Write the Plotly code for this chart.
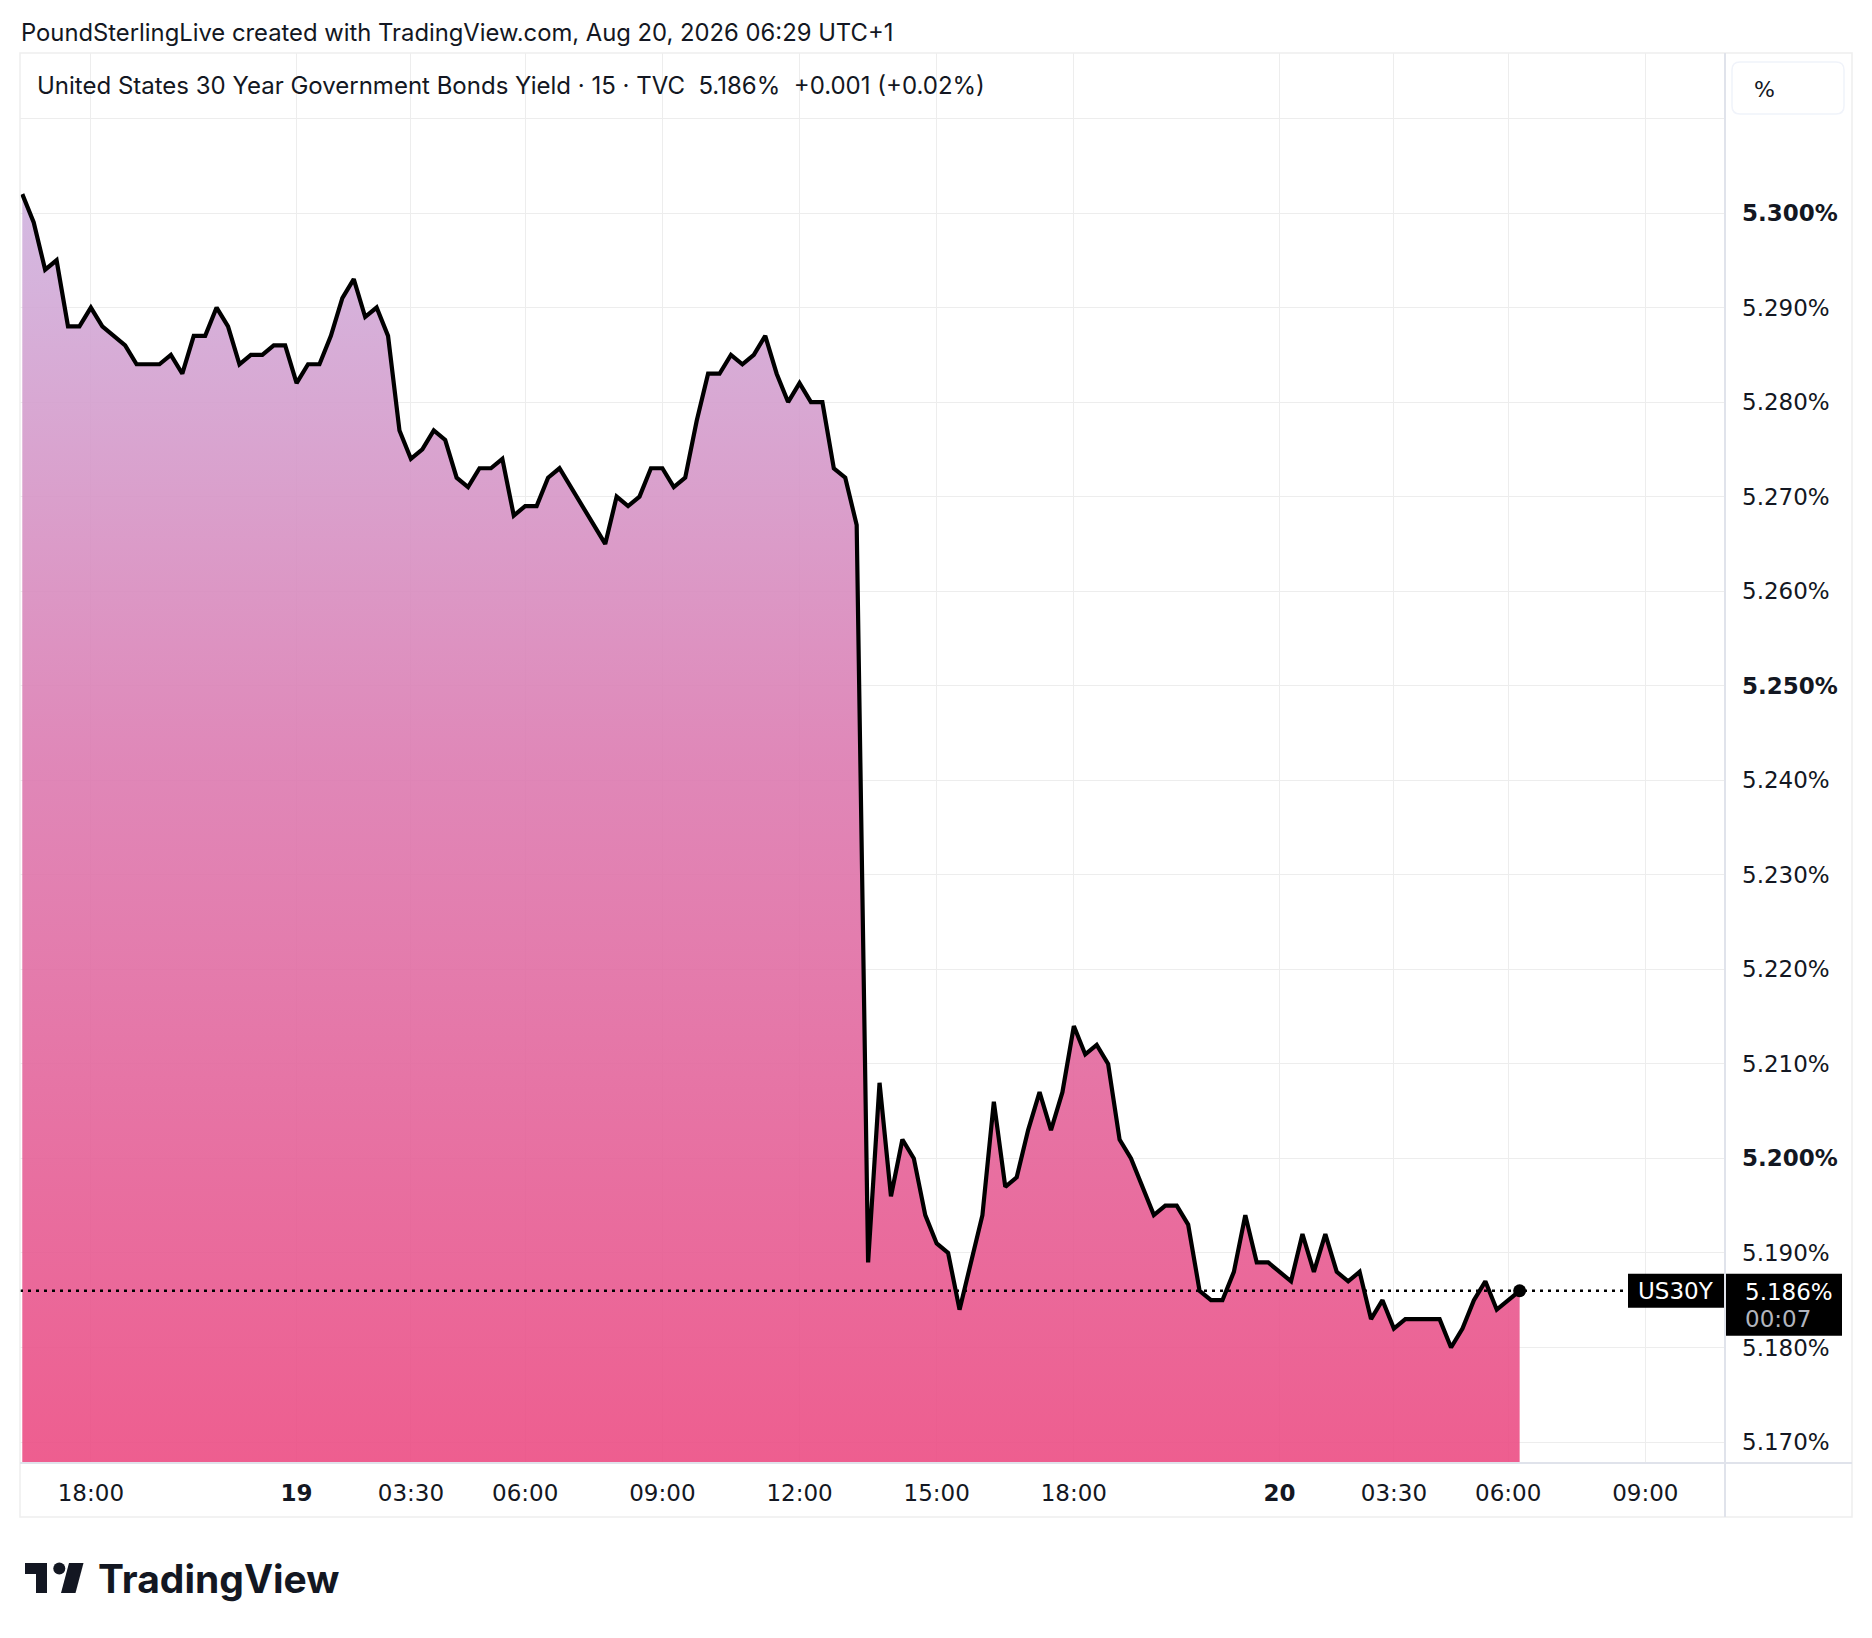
import plotly.graph_objects as go

# US 30Y yield, 15-minute bars (16:30 Aug 18 -> 06:15 Aug 20, session gaps removed)
yields = [
    5.302, 5.299, 5.294, 5.295, 5.288, 5.288, 5.290, 5.288, 5.287, 5.286,
    5.284, 5.284, 5.284, 5.285, 5.283, 5.287, 5.287, 5.290, 5.288, 5.284,
    5.285, 5.285, 5.286, 5.286, 5.282, 5.284, 5.284, 5.287, 5.291, 5.293,
    5.289, 5.290, 5.287, 5.277, 5.274, 5.275, 5.277, 5.276, 5.272, 5.271,
    5.273, 5.273, 5.274, 5.268, 5.269, 5.269, 5.272, 5.273, 5.271, 5.269,
    5.267, 5.265, 5.270, 5.269, 5.270, 5.273, 5.273, 5.271, 5.272, 5.278,
    5.283, 5.283, 5.285, 5.284, 5.285, 5.287, 5.283, 5.280, 5.282, 5.280,
    5.280, 5.273, 5.272, 5.267, 5.189, 5.208, 5.196, 5.202, 5.200, 5.194,
    5.191, 5.190, 5.184, 5.189, 5.194, 5.206, 5.197, 5.198, 5.203, 5.207,
    5.203, 5.207, 5.214, 5.211, 5.212, 5.210, 5.202, 5.200, 5.197, 5.194,
    5.195, 5.195, 5.193, 5.186, 5.185, 5.185, 5.188, 5.194, 5.189, 5.189,
    5.188, 5.187, 5.192, 5.188, 5.192, 5.188, 5.187, 5.188, 5.183, 5.185,
    5.182, 5.183, 5.183, 5.183, 5.183, 5.180, 5.182, 5.185, 5.187, 5.184,
    5.185, 5.186,
]
bars = list(range(len(yields)))

# time axis ticks (bar index) and labels
time_ticks = [6, 24, 34, 44, 56, 68, 80, 92, 110, 120, 130, 142]
time_labels = ["18:00", "<b>19</b>", "03:30", "06:00", "09:00", "12:00",
               "15:00", "18:00", "<b>20</b>", "03:30", "06:00", "09:00"]

# price axis ticks
price_ticks = [5.17, 5.18, 5.19, 5.20, 5.21, 5.22, 5.23, 5.24, 5.25,
               5.26, 5.27, 5.28, 5.29, 5.30, 5.31]
price_labels = ["5.170%", "5.180%", "5.190%", "<b>5.200%</b>", "5.210%",
                "5.220%", "5.230%", "5.240%", "<b>5.250%</b>", "5.260%",
                "5.270%", "5.280%", "5.290%", "<b>5.300%</b>", ""]

header = "PoundSterlingLive created with TradingView.com, Aug 20, 2026 06:29 UTC+1"
symbol = "US30Y"
change_txt = "+0.001 (+0.02%)"
countdown = "00:07"

W, H = 1872, 1638
L, R, T, B = 20, 1725, 53, 1463   # plot area in pixels

INK = "#131722"
GRID = "#EDEDED"
BORDER = "#E0E3EB"


def px_x(px):
    return (px - L) / (R - L)


def px_y(py):
    return (B - py) / (B - T)


def rounded_rect(x0, y0, x1, y1, r):
    # path in paper coords, pixel inputs
    pts = [
        f"M {px_x(x0 + r)} {px_y(y0)}",
        f"L {px_x(x1 - r)} {px_y(y0)}",
        f"Q {px_x(x1)} {px_y(y0)} {px_x(x1)} {px_y(y0 + r)}",
        f"L {px_x(x1)} {px_y(y1 - r)}",
        f"Q {px_x(x1)} {px_y(y1)} {px_x(x1 - r)} {px_y(y1)}",
        f"L {px_x(x0 + r)} {px_y(y1)}",
        f"Q {px_x(x0)} {px_y(y1)} {px_x(x0)} {px_y(y1 - r)}",
        f"L {px_x(x0)} {px_y(y0 + r)}",
        f"Q {px_x(x0)} {px_y(y0)} {px_x(x0 + r)} {px_y(y0)}",
        "Z",
    ]
    return " ".join(pts)


def poly(points):
    s = "M " + " L ".join(f"{px_x(a)} {px_y(b)}" for a, b in points)
    return s + " Z"


y_lo = 5.300 - (B - 213) / 9.454 * 0.001
y_hi = 5.300 + (213 - T) / 9.454 * 0.001
x_lo = -0.2
x_hi = (R - 22.3) / 11.43

last = yields[-1]

fig = go.Figure()

fig.add_trace(go.Scatter(
    x=bars, y=yields, mode="lines",
    line=dict(color="#000000", width=4.2),
    fill="tozeroy",
    fillgradient=dict(
        type="vertical",
        colorscale=[[0, "rgba(236,76,131,0.9)"],
                    [0.55, "rgba(220,122,176,0.9)"],
                    [1, "rgba(207,179,223,0.9)"]],
        start=y_lo, stop=max(yields),
    ),
    hoverinfo="skip", showlegend=False,
))

fig.add_trace(go.Scatter(
    x=[bars[-1]], y=[last], mode="markers",
    marker=dict(color="#000000", size=13),
    hoverinfo="skip", showlegend=False,
))

shapes = []
# last price dotted line
shapes.append(dict(type="line", xref="paper", yref="y",
                   x0=px_x(L), x1=px_x(1628), y0=last, y1=last,
                   line=dict(color="#000000", width=2.5, dash="3px,5px")))
# frame and separators
shapes.append(dict(type="rect", xref="paper", yref="paper",
                   x0=px_x(20), x1=px_x(1852), y0=px_y(53), y1=px_y(1517),
                   line=dict(color="#EEEEEE", width=1.5)))
shapes.append(dict(type="line", xref="paper", yref="paper",
                   x0=px_x(R), x1=px_x(R), y0=px_y(53), y1=px_y(1517),
                   line=dict(color=BORDER, width=2)))
shapes.append(dict(type="line", xref="paper", yref="paper",
                   x0=px_x(20), x1=px_x(1852), y0=px_y(B), y1=px_y(B),
                   line=dict(color=BORDER, width=2)))
# "%" unit box
shapes.append(dict(type="path", xref="paper", yref="paper",
                   path=rounded_rect(1732, 62, 1844, 114, 8),
                   fillcolor="#FFFFFF", line=dict(color="#F0F3FA", width=1.5)))
# price labels on the axis
shapes.append(dict(type="rect", xref="paper", yref="y", ysizemode="pixel",
                   yanchor=last, y0=-45, y1=17,
                   x0=px_x(1726), x1=px_x(1842),
                   fillcolor="#000000", line=dict(width=0)))
shapes.append(dict(type="rect", xref="paper", yref="y", ysizemode="pixel",
                   yanchor=last, y0=-17, y1=17,
                   x0=px_x(1628), x1=px_x(1724),
                   fillcolor="#000000", line=dict(width=0)))
# TradingView logo mark
shapes.append(dict(type="path", xref="paper", yref="paper",
                   path=poly([(25, 1563), (47, 1563), (47, 1593), (36, 1593),
                              (36, 1574), (25, 1574)]),
                   fillcolor=INK, line=dict(width=0)))
shapes.append(dict(type="circle", xref="paper", yref="paper",
                   x0=px_x(53.3), x1=px_x(65.3), y0=px_y(1562.5), y1=px_y(1574.5),
                   fillcolor=INK, line=dict(width=0)))
shapes.append(dict(type="path", xref="paper", yref="paper",
                   path=poly([(69, 1563), (83.5, 1563), (75.5, 1593), (61, 1593)]),
                   fillcolor=INK, line=dict(width=0)))

annotations = [
    dict(text=header, xref="paper", yref="paper", x=px_x(19), y=px_y(33),
         xanchor="left", yanchor="middle", showarrow=False,
         font=dict(family="Inter", size=23.8, color=INK)),
    dict(text=f"United States 30 Year Government Bonds Yield · 15 · TVC\u00a0\u00a0"
              f"{last:.3f}%\u00a0\u00a0{change_txt}",
         xref="paper", yref="paper", x=px_x(35), y=px_y(86),
         xanchor="left", yanchor="middle", showarrow=False,
         font=dict(family="Inter", size=24, color=INK)),
    dict(text="%", xref="paper", yref="paper", x=px_x(1752), y=px_y(89),
         xanchor="left", yanchor="middle", showarrow=False,
         font=dict(family="DejaVu Sans", size=22, color=INK)),
    dict(text=f"{last:.3f}%", xref="paper", yref="y", x=px_x(1743), y=last,
         xanchor="left", yanchor="middle", showarrow=False, yshift=-1,
         font=dict(family="DejaVu Sans", size=23, color="#FFFFFF")),
    dict(text=countdown, xref="paper", yref="y", x=px_x(1743), y=last,
         xanchor="left", yanchor="middle", showarrow=False, yshift=-28,
         font=dict(family="DejaVu Sans", size=23, color="#B2B5BE")),
    dict(text=symbol, xref="paper", yref="y", x=px_x(1676), y=last,
         xanchor="center", yanchor="middle", showarrow=False, yshift=0,
         font=dict(family="DejaVu Sans", size=23, color="#FFFFFF")),
    dict(text="TradingView", xref="paper", yref="paper", x=px_x(96), y=px_y(1578),
         xanchor="left", yanchor="middle", showarrow=False,
         font=dict(family="Inter", size=39, color=INK, weight=700)),
]

fig.update_layout(
    width=W, height=H,
    margin=dict(l=L, r=W - R, t=T, b=H - B, pad=0),
    plot_bgcolor="#FFFFFF", paper_bgcolor="#FFFFFF",
    showlegend=False,
    shapes=shapes,
    annotations=annotations,
    xaxis=dict(
        range=[x_lo, x_hi],
        tickvals=time_ticks, ticktext=time_labels,
        showgrid=True, gridcolor=GRID, gridwidth=1.2,
        zeroline=False, showline=False, ticks="",
        ticklabelstandoff=14,
        tickfont=dict(family="DejaVu Sans", size=23, color=INK),
        fixedrange=True,
    ),
    yaxis=dict(
        side="right",
        range=[y_lo, y_hi],
        tickvals=price_ticks, ticktext=price_labels,
        showgrid=True, gridcolor=GRID, gridwidth=1.2,
        zeroline=False, showline=False, ticks="",
        ticklabelstandoff=16,
        tickfont=dict(family="DejaVu Sans", size=23, color=INK),
        fixedrange=True,
    ),
)

fig.write_html("out.html", config={"displayModeBar": False},
               post_script="document.body.style.margin='0';")
